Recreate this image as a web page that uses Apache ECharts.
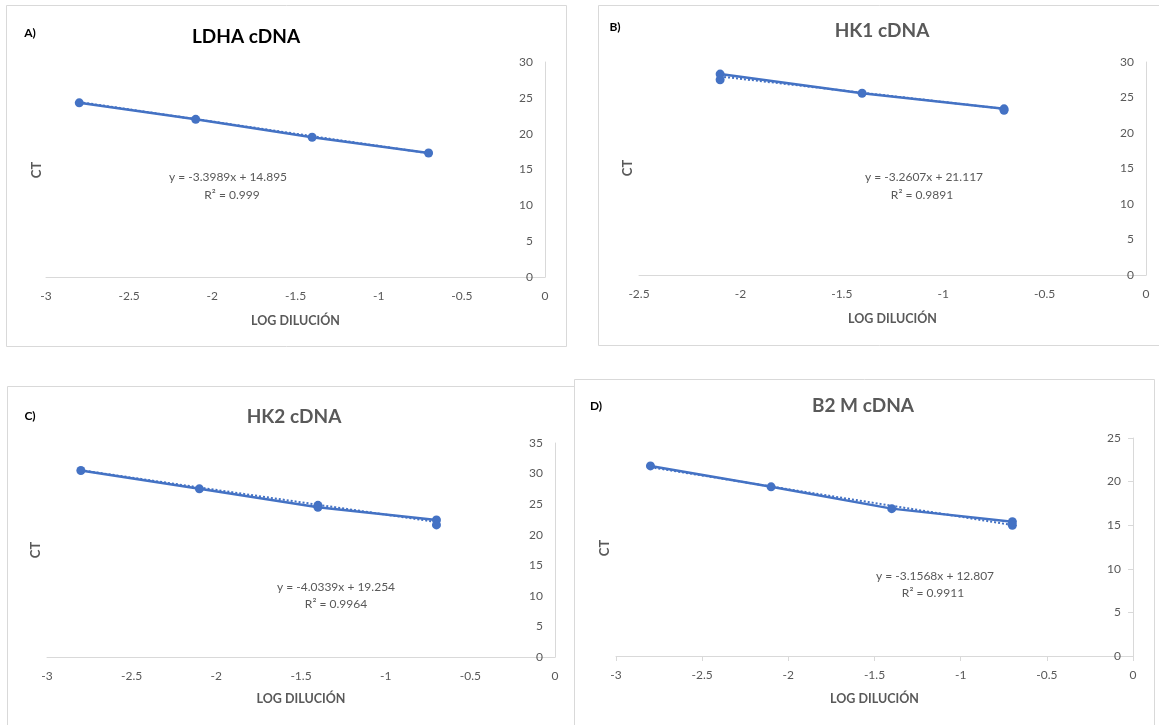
<!DOCTYPE html>
<html>
<head>
<meta charset="utf-8">
<script src="https://cdn.jsdelivr.net/npm/echarts@6/dist/echarts.min.js"></script>
<style>
html,body{margin:0;padding:0;background:#fff;}
#c{width:1159px;height:725px;}
</style>
</head>
<body>
<div id="c"></div>
<script>
// ---- data ----
const panelLetters = ['A)', 'B)', 'C)', 'D)'];
const panelTitles = ['LDHA cDNA', 'HK1 cDNA', 'HK2 cDNA', 'B2 M cDNA'];
const xAxisName = 'LOG DILUCIÓN';
const yAxisName = 'CT';

const ldhaX = [-2.8, -2.1, -1.4, -0.7];
const ldhaCt = [24.3, 22.0, 19.5, 17.3];
const ldhaTrendX = [-2.8, -0.7];
const ldhaTrendCt = [24.41, 17.27];

const hk1X = [-2.1, -2.1, -1.4, -0.7, -0.7];
const hk1Ct = [27.5, 28.3, 25.6, 23.4, 23.2];
const hk1TrendX = [-2.1, -0.7];
const hk1TrendCt = [27.96, 23.4];

const hk2X = [-2.8, -2.1, -1.4, -1.4, -0.7, -0.7];
const hk2Ct = [30.5, 27.5, 24.5, 24.8, 22.4, 21.6];
const hk2TrendX = [-2.8, -0.7];
const hk2TrendCt = [30.55, 22.08];

const b2mX = [-2.8, -2.1, -1.4, -0.7, -0.7];
const b2mCt = [21.8, 19.4, 16.9, 15.4, 15.0];
const b2mTrendX = [-2.8, -0.7];
const b2mTrendCt = [21.65, 15.02];

const xMins = [-3, -2.5, -3, -3];
const yMaxes = [30, 30, 35, 25];
const equations = ['y = -3.3989x + 14.895', 'y = -3.2607x + 21.117', 'y = -4.0339x + 19.254', 'y = -3.1568x + 12.807'];
const rSquared = ['R² = 0.999', 'R² = 0.9891', 'R² = 0.9964', 'R² = 0.9911'];

// ---- layout ----
const FONT = 'Lato, "Open Sans", sans-serif';
const BLUE = '#4472C4';
const GREY = '#595959';
const AXIS = '#d9d9d9';

const grids = [
  {left: 46, top: 62, width: 499, height: 215},
  {left: 639, top: 62, width: 507, height: 213},
  {left: 47, top: 443, width: 508, height: 214},
  {left: 616, top: 438, width: 517, height: 218}
];
const boxes = [
  {x: 6, y: 5, w: 560, h: 341},
  {x: 598, y: 5, w: 570, h: 340},
  {x: 7, y: 386, w: 567, h: 350},
  {x: 574, y: 379, w: 580, h: 360}
];
const letterPos = [[30, 33], [615, 27], [30, 416], [596, 406]];
const titlePos = [[246, 37], [882, 31], [294, 417], [863, 406]];
const titleColors = ['#000000', GREY, GREY, GREY];
const ctPos = [[37, 170], [628, 168], [36, 550], [605, 548]];
const eqPos = [[228, 177, 232, 195], [924, 177, 922, 195], [336, 587, 336, 604], [935, 576, 933, 593]];
const nameGaps = [37, 37, 35, 36];
const showTicks = [false, false, false, true];

const seriesX = [ldhaX, hk1X, hk2X, b2mX];
const seriesY = [ldhaCt, hk1Ct, hk2Ct, b2mCt];
const trendX = [ldhaTrendX, hk1TrendX, hk2TrendX, b2mTrendX];
const trendY = [ldhaTrendCt, hk1TrendCt, hk2TrendCt, b2mTrendCt];

const xAxes = [], yAxes = [], series = [], graphics = [];

for (let i = 0; i < 4; i++) {
  xAxes.push({
    type: 'value', gridIndex: i, min: xMins[i], max: 0, interval: 0.5,
    name: xAxisName, nameLocation: 'middle', nameGap: nameGaps[i],
    nameTextStyle: {fontFamily: FONT, fontSize: 12.5, fontWeight: 'bold', color: GREY},
    axisLine: {show: true, onZero: false, lineStyle: {color: AXIS, width: 1}},
    axisTick: {show: showTicks[i], length: 5, lineStyle: {color: AXIS}},
    axisLabel: {fontFamily: FONT, fontSize: 12, color: GREY, margin: 13},
    splitLine: {show: false}
  });
  yAxes.push({
    type: 'value', gridIndex: i, min: 0, max: yMaxes[i], interval: 5, position: 'right',
    axisLine: {show: true, onZero: false, lineStyle: {color: AXIS, width: 1}},
    axisTick: {show: showTicks[i], inside: true, length: 5, lineStyle: {color: AXIS}},
    axisLabel: {inside: true, fontFamily: FONT, fontSize: 12, color: GREY, margin: 12},
    splitLine: {show: false}
  });
  series.push({
    type: 'line', xAxisIndex: i, yAxisIndex: i,
    data: trendX[i].map((x, k) => [x, trendY[i][k]]),
    showSymbol: false, symbol: 'none', silent: true, z: 2,
    lineStyle: {color: BLUE, width: 2, type: 'dotted'}
  });
  series.push({
    type: 'line', xAxisIndex: i, yAxisIndex: i,
    data: seriesX[i].map((x, k) => [x, seriesY[i][k]]),
    symbol: 'circle', symbolSize: 9, showSymbol: true, z: 3,
    itemStyle: {color: BLUE},
    lineStyle: {color: BLUE, width: 2.5}
  });

  const b = boxes[i];
  graphics.push({type: 'rect', shape: {x: b.x + 0.5, y: b.y + 0.5, width: b.w, height: b.h},
    style: {fill: 'none', stroke: AXIS, lineWidth: 1}, z: -1, silent: true});
  graphics.push({type: 'text', x: letterPos[i][0], y: letterPos[i][1],
    style: {text: panelLetters[i], font: 'bold 12px ' + FONT, fill: '#000', align: 'center', verticalAlign: 'middle'}});
  graphics.push({type: 'text', x: titlePos[i][0], y: titlePos[i][1],
    style: {text: panelTitles[i], font: 'bold 19px ' + FONT, fill: titleColors[i], align: 'center', verticalAlign: 'middle'}});
  graphics.push({type: 'text', x: ctPos[i][0], y: ctPos[i][1], rotation: Math.PI / 2,
    style: {text: yAxisName, font: 'bold 13px ' + FONT, fill: GREY, align: 'center', verticalAlign: 'middle'}});
  graphics.push({type: 'text', x: eqPos[i][0], y: eqPos[i][1],
    style: {text: equations[i], font: '12px ' + FONT, fill: GREY, align: 'center', verticalAlign: 'middle'}});
  graphics.push({type: 'text', x: eqPos[i][2], y: eqPos[i][3],
    style: {text: rSquared[i], font: '12px ' + FONT, fill: GREY, align: 'center', verticalAlign: 'middle'}});
}

const chart = echarts.init(document.getElementById('c'), null, {renderer: 'canvas'});
chart.setOption({
  backgroundColor: '#ffffff',
  animation: false,
  grid: grids,
  xAxis: xAxes,
  yAxis: yAxes,
  series: series,
  graphic: graphics
});
</script>
</body>
</html>
